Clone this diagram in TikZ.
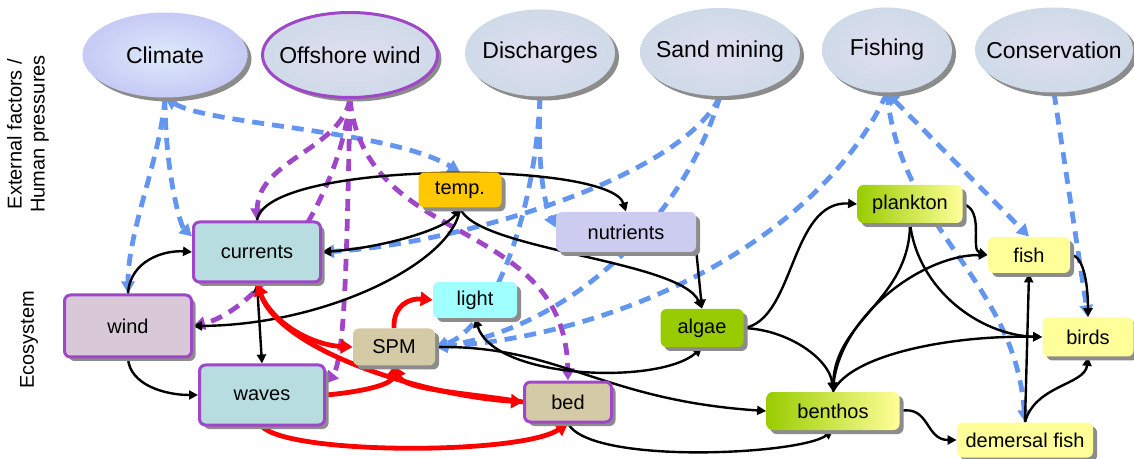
\documentclass[tikz,border=0pt]{standalone}
\usepackage{fontspec}
\setmainfont{Liberation Sans}
\usetikzlibrary{shapes.geometric,shadows,arrows.meta,backgrounds}

\definecolor{purp}{RGB}{160,70,200}
\definecolor{extblue}{RGB}{100,150,240}
\definecolor{ellfill}{RGB}{207,218,232}
\definecolor{ellcore}{RGB}{224,222,240}
\definecolor{climfill}{RGB}{198,202,245}
\definecolor{climcore}{RGB}{222,234,250}
\definecolor{flowfill}{RGB}{183,221,224}
\definecolor{windfill}{RGB}{216,200,216}
\definecolor{tempfill}{RGB}{255,200,0}
\definecolor{nutrfill}{RGB}{204,204,240}
\definecolor{lightfill}{RGB}{160,255,255}
\definecolor{sedfill}{RGB}{212,202,165}
\definecolor{algfill}{RGB}{153,204,0}
\definecolor{faunafill}{RGB}{255,255,153}

\newcommand{\ellipsetext}[1]{\makebox[0pt]{#1}}

\begin{document}
\begin{tikzpicture}[x=0.5pt,y=-0.5pt]

\tikzstyle{pressure} = [ellipse, inner sep=0pt, font=\fontsize{11.5}{14}\selectfont, inner color=ellcore, outer color=ellfill, drop shadow={shadow xshift=2pt,shadow yshift=-2pt,fill=black!45,opacity=1}]
\tikzstyle{eco} = [rectangle, rounded corners=3pt, font=\fontsize{10}{12}\selectfont, drop shadow={shadow xshift=2pt,shadow yshift=-2pt,fill=black!45,opacity=1}]
\tikzstyle{human} = [eco, draw=purp, line width=1.5pt]
\tikzstyle{arr} = [black, line width=1.2pt, >={Triangle[length=4.5pt,width=4.5pt]}, ->]
\tikzstyle{redarr} = [red, line width=2.4pt, >={Triangle[length=6pt,width=7pt]}, ->]
\tikzstyle{bluearr} = [extblue, line width=2.4pt, dash pattern=on 6pt off 4pt, >={Triangle[length=6pt,width=6.5pt]}, ->]
\tikzstyle{purparr} = [purp, line width=2.4pt, dash pattern=on 6pt off 4pt, >={Triangle[length=6pt,width=6.5pt]}, ->]

\useasboundingbox (0,0) rectangle (1134,459);

%Side labels
\node[rotate=90, align=center, font=\fontsize{10}{11.5}\selectfont] (pressurelabel) at (28,134) {External factors /\\Human pressures};
\node[rotate=90, font=\fontsize{10}{12}\selectfont] (ecolabel) at (29,340) {Ecosystem};

%External factors and pressures
\node[pressure, minimum width=82.5pt, minimum height=42.5pt, inner color=climcore, outer color=climfill] (climate) at (165,55) {\ellipsetext{Climate}};
\node[pressure, minimum width=87.5pt, minimum height=42.5pt, draw=purp, line width=1.5pt] (offshore) at (350,55) {\ellipsetext{Offshore wind}};
\node[pressure, minimum width=75pt, minimum height=43.5pt] (discharges) at (540,53) {\ellipsetext{Discharges}};
\node[pressure, minimum width=80pt, minimum height=44pt] (sandmining) at (720,52) {\ellipsetext{Sand mining}};
\node[pressure, minimum width=65pt, minimum height=42.5pt] (fishing) at (887,50) {\ellipsetext{Fishing}};
\node[pressure, minimum width=79pt, minimum height=42.5pt] (conservation) at (1054,50) {\ellipsetext{Conservation}};

%Physical part
\node[human, fill=flowfill, minimum width=63.5pt, minimum height=30pt] (currents) at (257,252) {currents};
\node[human, fill=windfill, minimum width=63.5pt, minimum height=31pt] (wind) at (128,326) {wind};
\node[human, fill=flowfill, minimum width=62.5pt, minimum height=30pt] (waves) at (262,395) {waves};
\node[eco, fill=tempfill, minimum width=41.5pt, minimum height=17.5pt] (temp) at (460,190) {temp.};
\node[eco, fill=nutrfill, minimum width=70pt, minimum height=20pt] (nutrients) at (626,232) {nutrients};
\node[eco, fill=lightfill, minimum width=42pt, minimum height=18pt] (light) at (475,300) {light};
\node[eco, fill=sedfill, minimum width=41pt, minimum height=18.5pt] (spm) at (394,347) {SPM};
\node[human, fill=sedfill, minimum width=43.5pt, minimum height=20pt] (bed) at (568,402) {bed};

%Biological part
\node[eco, fill=algfill, minimum width=41.5pt, minimum height=19pt] (algae) at (702,328) {algae};
\node[eco, left color=algfill, right color=faunafill, minimum width=66.5pt, minimum height=19pt] (benthos) at (833,411) {benthos};
\node[eco, left color=algfill, right color=faunafill, minimum width=52.5pt, minimum height=19pt] (plankton) at (910,204) {plankton};
\node[eco, fill=faunafill, minimum width=41pt, minimum height=18pt] (fish) at (1029,255) {fish};
\node[eco, fill=faunafill, minimum width=45.5pt, minimum height=19.5pt] (birds) at (1088,337) {birds};
\node[eco, fill=faunafill, minimum width=68pt, minimum height=17.5pt] (demfish) at (1025,440) {demersal fish};

\begin{pgfonlayer}{background}
%Climate
\draw[bluearr] (climate.south) .. controls (160,160) and (128,230) .. (wind.north);
\draw[bluearr] (climate.south) .. controls (165,170) and (180,225) .. ([yshift=-8pt]currents.north west);
\draw[bluearr,<->] (climate.south) .. controls (210,125) and (390,130) .. (temp.north);

%Offshore wind
\draw[purparr] (offshore.south) .. controls (340,150) and (258,160) .. (currents.north);
\draw[purparr] (offshore.south) .. controls (340,200) and (260,310) .. (wind.east);
\draw[purparr] (offshore.south) .. controls (347,250) and (345,360) .. ([yshift=-10pt]waves.north east);
\draw[purparr] (offshore.south) .. controls (365,250) and (565,215) .. (bed.north);

%Discharges, sand mining
\draw[bluearr] (discharges.south) .. controls (537,170) and (545,205) .. ([yshift=-8pt]nutrients.north west);
\draw[bluearr] (discharges.south) .. controls (535,220) and (490,330) .. (spm.east);
\draw[bluearr] (sandmining.south) .. controls (680,180) and (450,245) .. (currents.east);
\draw[bluearr] (sandmining.south) .. controls (680,230) and (560,330) .. (spm.east);

%Fishing, conservation
\draw[bluearr] (fishing.south) .. controls (820,240) and (620,335) .. (spm.east);
\draw[bluearr] (fishing.south) .. controls (900,230) and (1015,280) .. (demfish.north);
\draw[bluearr,<->] (fishing.south) -- (fish.north);
\draw[bluearr] (conservation.south) -- (birds.north);

%Black links
\draw[arr] (wind.north) .. controls (130,260) and (165,250) .. (currents.west);
\draw[arr] (wind.south) .. controls (130,385) and (165,395) .. (waves.west);
\draw[arr,<->] (currents.south) -- (waves.north);
\draw[arr,<->] (temp.south) .. controls (445,230) and (380,248) .. (currents.east);
\draw[arr] (temp.south) .. controls (455,260) and (330,325) .. (wind.east);
\draw[arr] (temp.south) .. controls (475,250) and (680,260) .. (algae.north);
\draw[arr] (currents.north) .. controls (265,160) and (610,160) .. (nutrients.north);
\draw[arr] (nutrients.south east) -- (algae.north);
\draw[arr,<->] (light.south) .. controls (495,380) and (660,385) .. (algae.south);
\draw[arr] (spm.east) .. controls (560,345) and (600,400) .. (benthos.west);
\draw[arr] (bed.south) .. controls (590,465) and (800,455) .. (benthos.south);
\draw[arr] (algae.east) .. controls (795,320) and (790,200) .. (plankton.west);
\draw[arr] (algae.east) .. controls (790,330) and (830,360) .. (benthos.north);
\draw[arr] (plankton.south) .. controls (910,300) and (835,320) .. (benthos.north);
\draw[arr] (benthos.north) .. controls (835,320) and (920,255) .. (fish.west);
\draw[arr] (benthos.north) .. controls (850,355) and (950,335) .. (birds.west);
\draw[arr] (plankton.south) .. controls (918,290) and (980,335) .. (birds.west);
\draw[arr] (plankton.east) .. controls (985,210) and (970,250) .. (fish.west);
\draw[arr] (fish.east) .. controls (1085,255) and (1088,290) .. (birds.north);
\draw[arr] (demfish.north) -- (fish.south);
\draw[arr] (demfish.north) .. controls (1035,385) and (1085,385) .. (birds.south);
\draw[arr] (benthos.east) .. controls (930,405) and (925,440) .. (demfish.west);

%Red links
\draw[redarr] (currents.south) .. controls (265,320) and (310,345) .. (spm.west);
\draw[redarr,<->] (currents.south) .. controls (280,350) and (420,395) .. (bed.west);
\draw[redarr] (bed.west) .. controls (460,392) and (405,390) .. (spm.south);
\draw[redarr] (waves.east) .. controls (360,392) and (392,385) .. (spm.south);
\draw[redarr] (waves.south) .. controls (290,455) and (520,455) .. (bed.south);
\draw[redarr] (spm.north) .. controls (393,305) and (410,298) .. (light.west);
\end{pgfonlayer}

\end{tikzpicture}
\end{document}
